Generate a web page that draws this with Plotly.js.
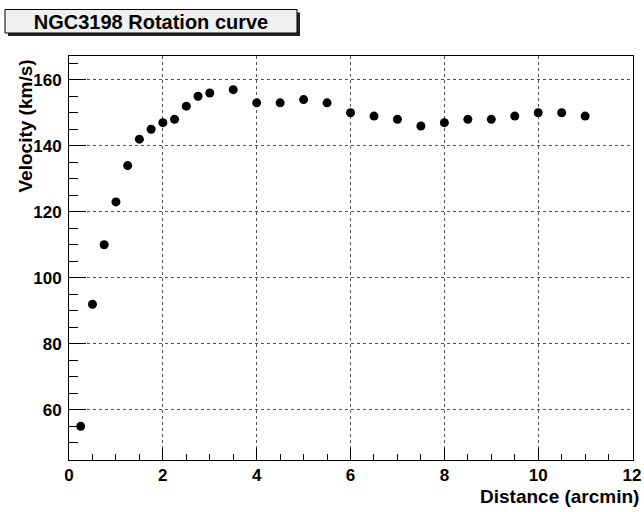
<!DOCTYPE html>
<html>
<head>
<meta charset="utf-8">
<script src="https://cdn.plot.ly/plotly-3.0.1.min.js"></script>
<style>html,body{margin:0;padding:0;background:#fff;}#chart{width:644px;height:512px;}</style>
</head>
<body>
<div id="chart"></div>
<script>
const distance = [0.25, 0.5, 0.75, 1, 1.25, 1.5, 1.75, 2, 2.25, 2.5, 2.75, 3, 3.5, 4, 4.5, 5, 5.5, 6, 6.5, 7, 7.5, 8, 8.5, 9, 9.5, 10, 10.5, 11];
const velocity = [55, 92, 110, 123, 134, 142, 145, 147, 148, 152, 155, 156, 157, 153, 153, 154, 153, 150, 149, 148, 146, 147, 148, 148, 149, 150, 150, 149];
const chartTitle = "NGC3198 Rotation curve";
const xTitle = "Distance (arcmin)";
const yTitle = "Velocity (km/s)";

const W = 644, H = 512;
const L = 69, R = 633, T = 56, B = 460;
const pw = R - L, ph = B - T;
const px = v => (v - L) / pw;
const py = v => (B - v) / ph;
const font = "Liberation Sans, Arial, Helvetica, sans-serif";

const trace = {
  x: distance, y: velocity, type: "scatter", mode: "markers",
  marker: {symbol: "circle", size: 9, color: "#000"},
  hoverinfo: "x+y"
};

const axisCommon = {
  showline: true, linecolor: "#000", linewidth: 1, mirror: true,
  ticks: "inside", tickcolor: "#000", tickwidth: 1,
  showgrid: true, gridcolor: "#555", gridwidth: 1, griddash: "dot",
  zeroline: false,
  tickfont: {family: font, size: 17, color: "#000", weight: "bold"}
};

const layout = {
  width: W, height: H,
  margin: {l: L, r: W - R, t: T, b: H - B, pad: 0},
  paper_bgcolor: "#fff", plot_bgcolor: "#fff",
  showlegend: false,
  title: {text: "<b>" + chartTitle + "</b>", x: 151 / W, y: 1 - 21.5 / H,
          xref: "container", yref: "container", xanchor: "center", yanchor: "middle",
          font: {family: font, size: 20, color: "#000"}},
  xaxis: Object.assign({}, axisCommon, {
    range: [0, 12.02], tick0: 0, dtick: 2, ticklen: 12,
    minor: {dtick: 0.5, ticks: "inside", ticklen: 6, tickcolor: "#000", showgrid: false},
    ticklabelstandoff: 0
  }),
  yaxis: Object.assign({}, axisCommon, {
    range: [44.8, 167.2], tick0: 0, dtick: 20, ticklen: 17,
    minor: {dtick: 5, ticks: "inside", ticklen: 8.5, tickcolor: "#000", showgrid: false},
    ticklabelstandoff: 3
  }),
  shapes: [
    {type: "rect", xref: "paper", yref: "paper", x0: px(8), x1: px(300), y0: py(12.5), y1: py(36),
     fillcolor: "#222", line: {width: 0}, layer: "above"},
    {type: "rect", xref: "paper", yref: "paper", x0: px(5), x1: px(297), y0: py(9.5), y1: py(33),
     fillcolor: "#f0f0f0", line: {color: "#000", width: 1}, layer: "above"}
  ],
  annotations: [
    {text: "<b>" + yTitle + "</b>", xref: "paper", yref: "paper", x: px(25), y: py(58),
     xanchor: "center", yanchor: "top", textangle: -90, showarrow: false,
     font: {family: font, size: 19, color: "#000"}},
    {text: "<b>" + xTitle + "</b>", xref: "paper", yref: "paper", x: px(641), y: py(496),
     xanchor: "right", yanchor: "middle", showarrow: false,
     font: {family: font, size: 19, color: "#000"}}
  ]
};

Plotly.newPlot("chart", [trace], layout, {displayModeBar: false, staticPlot: true});
</script>
</body>
</html>
